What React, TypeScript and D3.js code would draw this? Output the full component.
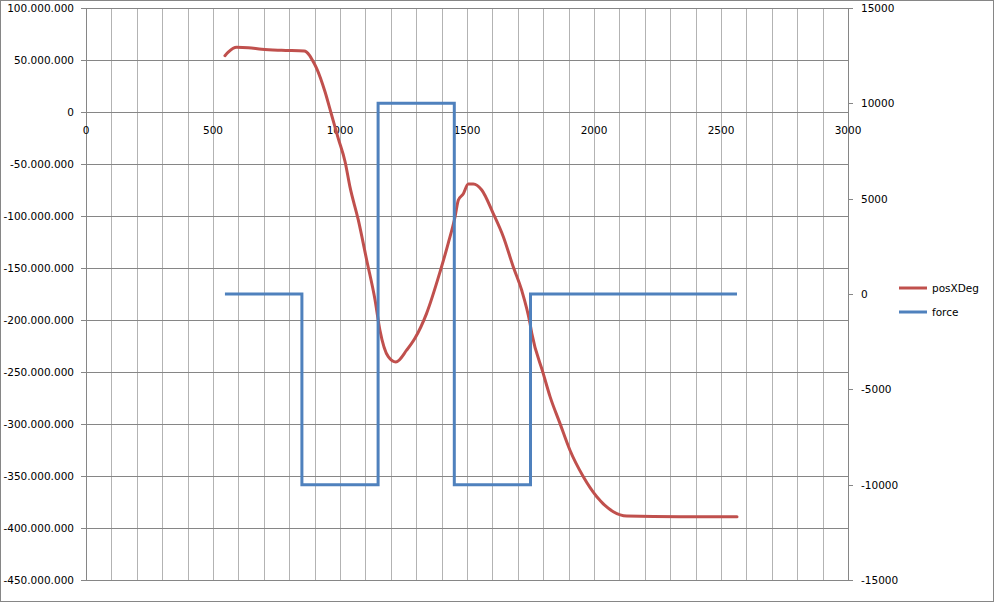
import * as d3 from 'd3';

// posXDeg series (left axis), x = sample position
const posX = [547, 560, 593, 639, 692, 770, 859, 880, 891, 908, 941, 967, 993, 1020, 1039, 1072, 1105, 1138, 1157, 1190, 1220, 1263, 1295, 1341, 1394, 1426, 1453, 1466, 1485, 1505, 1525, 1558, 1603, 1643, 1682, 1715, 1748, 1755, 1800, 1827, 1866, 1905, 1958, 2011, 2076, 2129, 2339, 2563];
const posY = [54.1, 57.5, 62.2, 61.8, 60.3, 59.3, 58.7, 54.5, 50.0, 42.0, 19.5, -2.9, -25.3, -47.8, -71.8, -103.8, -142.3, -180.8, -209.6, -235.3, -240.4, -228.8, -217.6, -193.6, -153.6, -126.3, -100.7, -84.6, -78.8, -69.2, -69.2, -75.0, -97.4, -119.9, -148.8, -171.2, -203.2, -212.8, -251.3, -273.7, -299.4, -325.0, -350.7, -369.9, -384.3, -388.5, -389.1, -389.1].map(v => v * 1e6);

// force series (right axis), step signal
const forceX = [547, 850, 850, 1150, 1150, 1450, 1450, 1750, 1750, 2563];
const forceY = [0, 0, -10000, -10000, 10000, 10000, -10000, -10000, 0, 0];

const leftTicks = d3.range(-450e6, 100e6 + 1, 50e6);
const rightTicks = d3.range(-15000, 15001, 5000);
const xLabelTicks = d3.range(0, 3001, 500);
const xGridTicks = d3.range(0, 3001, 100);

const seriesNames = ['posXDeg', 'force'];
const colors = ['#C0504D', '#4F81BD'];

const W = 994;
const H = 602;
const plot = { left: 86, right: 848, top: 8, bottom: 580 };
const font = '"DejaVu Sans", Tahoma, sans-serif';

const fmtDots = (v: number) => {
  const s = d3.format(',')(v);
  return s.replace(/,/g, '.').replace('−', '-');
};

export default function App() {
  const x = d3.scaleLinear().domain([0, 3000]).range([plot.left, plot.right]);
  const yL = d3.scaleLinear().domain([-450e6, 100e6]).range([plot.bottom, plot.top]);
  const yR = d3.scaleLinear().domain([-15000, 15000]).range([plot.bottom, plot.top]);

  const posData = posX.map((d, i) => [d, posY[i]] as [number, number]);
  const forceData = forceX.map((d, i) => [d, forceY[i]] as [number, number]);

  const posLine = d3.line<[number, number]>().x(d => x(d[0])).y(d => yL(d[1])).curve(d3.curveMonotoneX);
  const forceLine = d3.line<[number, number]>().x(d => x(d[0])).y(d => yR(d[1]));

  const y0 = Math.round(yL(0)) + 0.5;

  return (
    <div style={{ position: 'fixed', left: 0, top: 0 }}>
      <svg width={W} height={H} style={{ display: 'block', background: '#fff' }}>
        <rect x={0.5} y={0.5} width={W - 1} height={H - 1} fill="#fff" stroke="#868686" />

        {/* vertical gridlines */}
        {xGridTicks.map(t => (
          <line key={'vg' + t} x1={Math.round(x(t)) + 0.5} x2={Math.round(x(t)) + 0.5}
            y1={plot.top} y2={plot.bottom} stroke="#b3b3b3" strokeWidth={1} />
        ))}

        {/* horizontal gridlines + left ticks */}
        {leftTicks.map(t => {
          const yy = Math.round(yL(t)) + 0.5;
          return (
            <g key={'hg' + t}>
              <line x1={plot.left - 5} x2={plot.right} y1={yy} y2={yy} stroke="#868686" />
              <text x={74} y={yy} dy="0.35em" textAnchor="end" fontFamily={font} fontSize={10.5} fill="#000">
                {fmtDots(t)}
              </text>
            </g>
          );
        })}

        {/* axes lines */}
        <line x1={plot.left + 0.5} x2={plot.left + 0.5} y1={plot.top} y2={plot.bottom} stroke="#868686" />
        <line x1={plot.right + 0.5} x2={plot.right + 0.5} y1={plot.top} y2={plot.bottom} stroke="#868686" />
        <line x1={plot.left} x2={plot.right} y1={y0} y2={y0} stroke="#868686" />

        {/* right axis */}
        {rightTicks.map(t => {
          const yy = Math.round(yR(t)) + 0.5;
          return (
            <g key={'rt' + t}>
              <line x1={plot.right} x2={plot.right + 5} y1={yy} y2={yy} stroke="#868686" />
              <text x={861} y={yy} dy="0.35em" fontFamily={font} fontSize={10.5} fill="#000">{t}</text>
            </g>
          );
        })}

        {/* x labels */}
        {xLabelTicks.map(t => (
          <text key={'xl' + t} x={x(t)} y={y0 + 18} dy="0.35em" textAnchor="middle"
            fontFamily={font} fontSize={10.5} fill="#000">{t}</text>
        ))}

        {/* series */}
        <path d={posLine(posData) || ''} fill="none" stroke={colors[0]} strokeWidth={3} strokeLinejoin="round" strokeLinecap="round" />
        <path d={forceLine(forceData) || ''} fill="none" stroke={colors[1]} strokeWidth={3} strokeLinejoin="miter" />

        {/* legend */}
        {seriesNames.map((n, i) => (
          <g key={n} transform={`translate(899, ${288 + i * 24})`}>
            <line x1={0} x2={28} y1={0} y2={0} stroke={colors[i]} strokeWidth={3} />
            <text x={33} y={0} dy="0.35em" fontFamily={font} fontSize={10.5} fill="#000">{n}</text>
          </g>
        ))}
      </svg>
    </div>
  );
}
